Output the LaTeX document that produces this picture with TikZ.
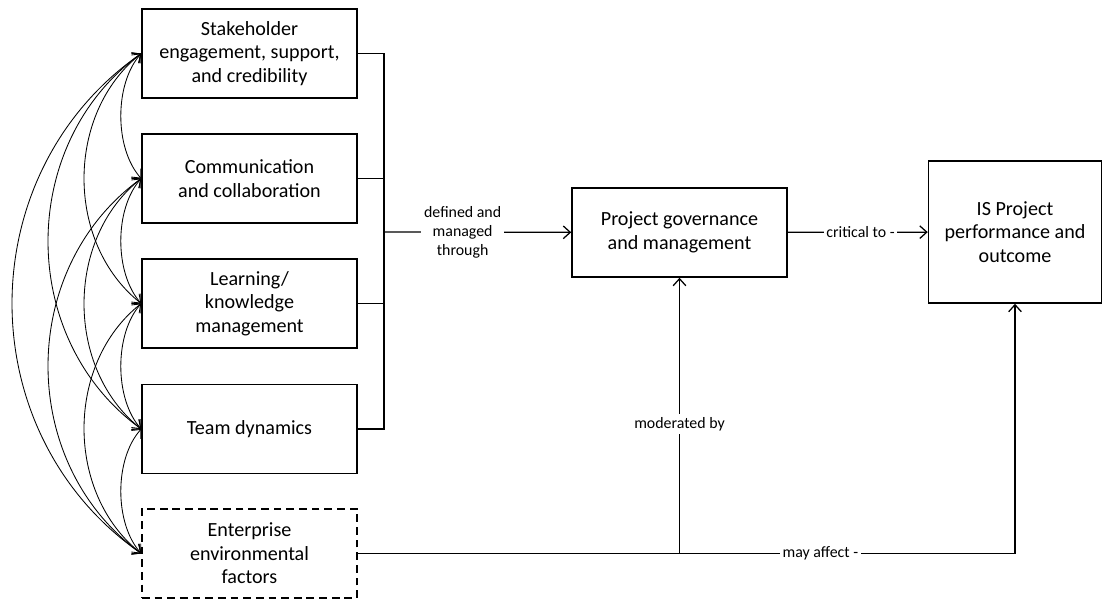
\documentclass[tikz,border=0pt]{standalone}
\usepackage{fontspec}
\setmainfont{Carlito}
\usetikzlibrary{arrows.meta}

\begin{document}
\begin{tikzpicture}[x=0.25mm,y=-0.25mm,
    box/.style={draw,line width=1.1pt,minimum width=53.75mm,minimum height=22.25mm,
      align=center,font=\fontsize{14.3}{16.8}\selectfont},
    lbl/.style={fill=white,align=center,inner sep=2pt,font=\fontsize{11.3}{13.5}\selectfont},
    link/.style={line width=0.9pt},
    corr/.style={<->,line width=0.6pt},
    >={Straight Barb[length=5pt,width=9pt]}]
        \useasboundingbox (0,0) rectangle (1102,599);
        % factors on the left
        \node[box] (stake) at (249.5,53.5) {Stakeholder\\engagement, support,\\and credibility};
        \node[box] (comm) at (249.5,178.5) {Communication\\and collaboration};
        \node[box] (learn) at (249.5,303.5) {Learning/\\knowledge\\management};
        \node[box] (team) at (249.5,429) {Team dynamics};
        \node[box,dash pattern=on 5.5pt off 3.5pt] (env) at (249.5,553.5) {Enterprise\\environmental\\factors};
        % governance and outcome
        \node[box] (gov) at (679.5,232.5) {Project governance\\and management};
        \node[box,minimum width=43.25mm,minimum height=35.5mm] (perf) at (1015,232) {IS Project\\performance and\\outcome};
        % correlations between the factors
        \draw[corr] (stake.west) .. controls +(-27,30) and +(-27,-30) .. (comm.west);
        \draw[corr] (stake.west) .. controls +(-76,60) and +(-76,-60) .. (learn.west);
        \draw[corr] (stake.west) .. controls +(-124,90) and +(-124,-90) .. (team.west);
        \draw[corr] (stake.west) .. controls +(-172,120) and +(-172,-120) .. (env.west);
        \draw[corr] (comm.west) .. controls +(-27,30) and +(-27,-30) .. (learn.west);
        \draw[corr] (comm.west) .. controls +(-76,60) and +(-76,-60) .. (team.west);
        \draw[corr] (comm.west) .. controls +(-124,90) and +(-124,-90) .. (env.west);
        \draw[corr] (learn.west) .. controls +(-27,30) and +(-27,-30) .. (team.west);
        \draw[corr] (learn.west) .. controls +(-76,60) and +(-76,-60) .. (env.west);
        \draw[corr] (team.west) .. controls +(-27,30) and +(-27,-30) .. (env.west);
        % bus into governance
        \coordinate (bus) at (384,232);
        \draw[link] (stake.east) -| (bus) |- (team.east);
        \draw[link] (comm.east) -| (bus);
        \draw[link] (learn.east) -| (bus);
        \draw[link,->] (bus) -- node[lbl,pos=.42] {defined and\\managed\\through} (gov);
        \draw[link,->] (gov) -- node[lbl,pos=.52] {critical to -} (perf);
        % environment
        \coordinate (mod) at (gov.south |- env.east);
        \draw[link] (env.east) -- (mod);
        \draw[link,->] (mod) -- node[lbl,pos=.47] {moderated by} (gov.south);
        \draw[link,->] (mod) -- node[lbl,pos=.42] {may affect -} (mod -| perf.south) -- (perf.south);
\end{tikzpicture}
\end{document}
